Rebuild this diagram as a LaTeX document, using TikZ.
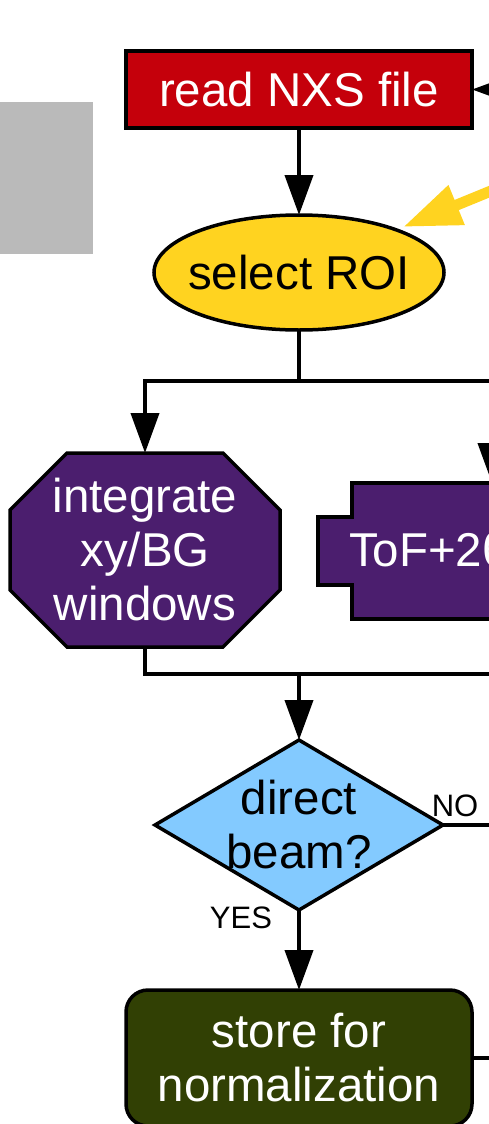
\documentclass[tikz,border=0pt]{standalone}
\usepackage{fontspec}
\setmainfont{Liberation Sans}
\usetikzlibrary{arrows.meta,shapes.geometric,backgrounds}

\definecolor{readred}{HTML}{C5000B}
\definecolor{roiyellow}{HTML}{FFD320}
\definecolor{steppurple}{HTML}{4B1E6E}
\definecolor{askblue}{HTML}{83CAFF}
\definecolor{storeolive}{HTML}{314004}
\definecolor{sidegray}{HTML}{BABABA}

\begin{document}
\begin{tikzpicture}[x=1pt,y=-1pt,
  every node/.style={font=\fontsize{47.5}{54}\selectfont, inner sep=0pt, outer sep=0pt},
  box/.style={draw=black, line width=3.5pt},
  link/.style={draw=black, line width=4pt},
  flow/.style={link, -{Triangle[length=40pt,width=28pt]}},
  hint/.style={draw=roiyellow, line width=11pt, -{Triangle[length=58pt,width=40pt]}},
  tag/.style={font=\fontsize{31}{36}\selectfont}]

\useasboundingbox (0,0) rectangle (489,1124);
\clip (0,0) rectangle (489,1124);

% side panel
\fill[sidegray] (-20,102) rectangle (93,254);

% nodes
\node[box, fill=readred, text=white, minimum width=346pt, minimum height=77pt]
  (read) at (299,89.5) {read NXS file};
\node[box, fill=roiyellow, ellipse, minimum width=290pt, minimum height=115pt]
  (sel) at (299,272.5) {};
\node (seltext) at (sel) {select ROI};
\node[text=white, align=center, minimum width=270pt, minimum height=194pt]
  (integ) at (145,550) {integrate\\xy/BG\\windows};
\begin{scope}[on background layer]
  \draw[box, fill=steppurple]
    ([xshift=57pt]integ.north west) -- ([xshift=-57pt]integ.north east)
    -- ([yshift=-57pt]integ.north east) -- ([yshift=57pt]integ.south east)
    -- ([xshift=-57pt]integ.south east) -- ([xshift=57pt]integ.south west)
    -- ([yshift=57pt]integ.south west) -- ([yshift=-57pt]integ.north west)
    -- cycle;
\end{scope}

% ToF box with a tab on its left side
\draw[box, fill=steppurple] (520,483) -- (352,483) -- (352,517) -- (318,517)
  -- (318,585) -- (352,585) -- (352,619) -- (520,619);
\node[anchor=base west, text=white] (tof) at (349,566) {ToF+2θ};
\coordinate (toftop) at (492,483);

\node[box, fill=askblue, diamond, minimum width=288pt, minimum height=170pt]
  (dir) at (299,825) {};
\node[align=center] (dirtext) at (299,825) {direct\\beam?};

\node[box, fill=storeolive, text=white, rounded corners=22pt, align=center,
  minimum width=346pt, minimum height=136pt]
  (store) at (299,1058) {store for\\normalization};

% helper points
\coordinate (split) at (299,381);
\coordinate (merge) at (299,673.5);
\coordinate (mergeout) at (520,673.5);
\coordinate (readin) at (520,89.5);
\coordinate (noout) at (520,825);
\coordinate (storeout) at (520,1058);
\coordinate (hintfrom) at (530,175);
\coordinate (hinttip) at (403,227);

% connectors
\draw[flow] (readin) -- (read.east);
\draw[flow] (read.south) -- (sel.north);
\draw[link] (sel.south) -- (split);
\draw[flow] (split) -| (integ.north);
\draw[flow] (split) -| (toftop);
\draw[link] (integ.south) |- (mergeout);
\draw[flow] (merge) -- (dir.north);
\draw[link] (dir.east) -- (noout);
\draw[flow] (dir.south) -- (store.north);
\draw[link] (store.east) -- (storeout);
\draw[hint] (hintfrom) -- (hinttip);

% branch labels
\node[tag] (no) at (455,806) {NO};
\node[tag] (yes) at (241,918) {YES};
\end{tikzpicture}
\end{document}
